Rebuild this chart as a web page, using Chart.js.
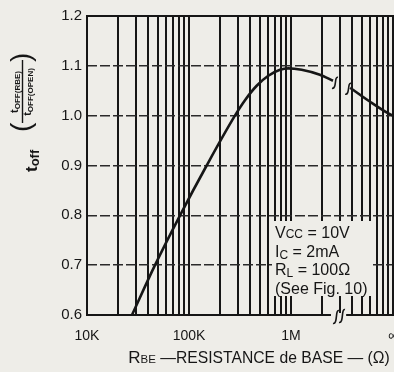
<!DOCTYPE html>
<html>
<head>
  <title>toff vs RBE</title>
  <script src="https://cdn.jsdelivr.net/npm/chart.js"></script>
  <style>
    body { margin: 0; background: #eeede8; }
    .wrap { width: 394px; height: 372px; overflow: hidden; }
    canvas { display: block; }
  </style>
</head>
<body>
  <div class="wrap"><canvas id="toffChart" width="413" height="372"></canvas></div>
  <script>
    // Base-emitter resistance (ohms) and normalised turn-off time along the curve.
    // The null entry breaks the line where the axis jumps to infinity.
    const rbe   = [27.6e3, 46.4e3, 81.7e3, 149e3, 282e3, 354e3, 461e3, 599e3, 780e3, 940e3, 1.27e6, 1.92e6, 2.58e6, 3.1e6, 3.8e6, 5.96e6, 8.93e6, 1e7];
    const ratio = [0.600, 0.700, 0.800, 0.900, 1.000, 1.031, 1.060, 1.080, 1.092, 1.095, 1.092, 1.082, 1.070, null, 1.056, 1.028, 1.005, 1.000];

    // x axis: decades with a line at every 1..9 multiple, labelled at the decades
    const decades = [1e4, 1e5, 1e6];
    const multiples = [1, 2, 3, 4, 5, 6, 7, 8, 9];
    const xTickValues = [1e4, 1e5, 1e6, 1e7];
    const xTickLabels = ['10K', '100K', '1M', '\u221E'];

    // y axis
    const yMin = 0.6, yMax = 1.2, yStep = 0.1;

    // where the axis break sits (ohms)
    const breakLeft = 2.58e6, breakRight = 3.8e6;

    const noteLines = [
      [['V', 16, 0], ['CC', 12, 0], [' = 10V', 16, 0]],
      [['I', 16, 0], ['C', 12, 2], [' = 2mA', 16, 0]],
      [['R', 16, 0], ['L', 12, 2], [' = 100\u03A9', 16, 0]],
      [['(See Fig. 10)', 16, 0]]
    ];

    const gridValues = [];
    decades.forEach(d => multiples.forEach(m => gridValues.push(d * m)));
    gridValues.push(1e7);

    const paper = '#eeede8';
    const ink = '#161616';
    const family = '"Liberation Sans", Arial, sans-serif';

    function drawRuns(ctx, runs, x, y, weight) {
      let cx = x;
      runs.forEach(([t, size, drop]) => {
        ctx.font = `${weight || 'normal'} ${size}px ${family}`;
        ctx.fillText(t, cx, y + drop);
        cx += ctx.measureText(t).width;
      });
      return cx - x;
    }
    function runsWidth(ctx, runs, weight) {
      let w = 0;
      runs.forEach(([t, size]) => {
        ctx.font = `${weight || 'normal'} ${size}px ${family}`;
        w += ctx.measureText(t).width;
      });
      return w;
    }

    // integral-like squiggle used for the axis break
    function squiggle(ctx, x, y, h) {
      ctx.beginPath();
      ctx.moveTo(x + 3, y - h / 2);
      ctx.bezierCurveTo(x - 1, y - h / 2 - 1, x + 2, y + h / 2 + 1, x - 3, y + h / 2);
      ctx.stroke();
    }

    const decorations = {
      id: 'decorations',
      beforeDraw(chart) {
        const ctx = chart.ctx;
        ctx.save();
        ctx.fillStyle = paper;
        ctx.fillRect(0, 0, chart.width, chart.height);
        ctx.restore();
      },
      beforeDatasetsDraw(chart) {
        const {ctx, chartArea: a} = chart;
        ctx.save();
        // frame
        ctx.strokeStyle = ink;
        ctx.lineWidth = 2;
        ctx.strokeRect(a.left, a.top, a.right - a.left, a.bottom - a.top);

        // conditions box
        const bx = a.left + 185, by = a.top + 205;
        ctx.fillStyle = paper;
        ctx.fillRect(bx, by, 100, 75);
        ctx.fillStyle = ink;
        ctx.textBaseline = 'alphabetic';
        noteLines.forEach((runs, i) => drawRuns(ctx, runs, bx + 3, by + 17 + i * 18.5));
        ctx.restore();
      },
      afterDatasetsDraw(chart) {
        const {ctx, chartArea: a, scales: {x, y}} = chart;
        ctx.save();
        ctx.strokeStyle = ink;
        ctx.fillStyle = ink;
        ctx.lineWidth = 1.6;

        // break on the curve
        const i0 = rbe.indexOf(breakLeft), i1 = rbe.indexOf(breakRight);
        squiggle(ctx, x.getPixelForValue(breakLeft) + 2, y.getPixelForValue(ratio[i0]) + 2, 11);
        squiggle(ctx, x.getPixelForValue(breakRight) - 2, y.getPixelForValue(ratio[i1]) + 1, 11);

        // break on the bottom axis
        const gx0 = x.getPixelForValue(breakLeft), gx1 = x.getPixelForValue(breakRight);
        ctx.fillStyle = paper;
        ctx.fillRect(gx0 - 2, a.bottom - 2, gx1 - gx0 - 2, 4);
        squiggle(ctx, gx0 + 3, a.bottom + 2, 13);
        squiggle(ctx, gx0 + 9, a.bottom + 1, 13);

        // x axis title
        ctx.fillStyle = ink;
        const xTitle = [['R', 17, 0], ['BE', 11.5, 0], [' \u2014RESISTANCE de BASE \u2014 (\u03A9)', 15.7, 0]];
        const tw = runsWidth(ctx, xTitle);
        drawRuns(ctx, xTitle, (a.left + a.right) / 2 + 19 - tw / 2, 363);

        // y axis title, rotated
        ctx.rotate(-Math.PI / 2);
        // t_off
        drawRuns(ctx, [['t', 17, 0], ['off', 13, 2]], -172, 37, 'bold');
        // fraction in parentheses
        const num = [['t', 11, 0], ['OFF(RBE)', 8, 2]];
        const den = [['t', 11, 0], ['OFF(OPEN)', 8, 2]];
        drawRuns(ctx, num, -92 - runsWidth(ctx, num, 'bold') / 2, 18, 'bold');
        drawRuns(ctx, den, -92 - runsWidth(ctx, den, 'bold') / 2, 31, 'bold');
        ctx.lineWidth = 1.4;
        ctx.beginPath();
        ctx.moveTo(-123, 22.5);
        ctx.lineTo(-60, 22.5);
        ctx.stroke();
        ctx.font = `normal 28px ${family}`;
        ctx.fillText('(', -132, 30);
        ctx.fillText(')', -62, 30);
        ctx.restore();
      }
    };

    new Chart(document.getElementById('toffChart'), {
      type: 'line',
      data: {
        datasets: [{
          data: rbe.map((v, i) => ({x: v, y: ratio[i]})),
          borderColor: ink,
          borderWidth: 2.6,
          pointRadius: 0,
          cubicInterpolationMode: 'monotone',
          spanGaps: false
        }]
      },
      options: {
        responsive: false,
        animation: false,
        layout: { padding: { top: 16, right: 20, left: 0, bottom: 0 } },
        plugins: { legend: { display: false }, tooltip: { enabled: false } },
        scales: {
          x: {
            type: 'logarithmic',
            min: 1e4,
            max: 1e7,
            afterBuildTicks: s => { s.ticks = gridValues.map(v => ({ value: v })); },
            afterFit: s => { s.height = 57; },
            grid: { color: ink, lineWidth: 2, drawTicks: false },
            border: { display: false },
            ticks: {
              autoSkip: false,
              maxRotation: 0,
              padding: 13,
              color: ink,
              font: { family, size: 14 },
              callback: v => {
                const i = xTickValues.indexOf(v);
                return i >= 0 ? xTickLabels[i] : '';
              }
            }
          },
          y: {
            min: yMin,
            max: yMax,
            afterFit: s => { s.width = 87; },
            grid: { color: '#2a2a2a', lineWidth: 1.6, drawTicks: false },
            border: { display: false, dash: [10, 3] },
            ticks: {
              stepSize: yStep,
              padding: 5,
              color: ink,
              font: { family, size: 15 },
              callback: v => v.toFixed(1)
            }
          }
        }
      },
      plugins: [decorations]
    });
  </script>
</body>
</html>
